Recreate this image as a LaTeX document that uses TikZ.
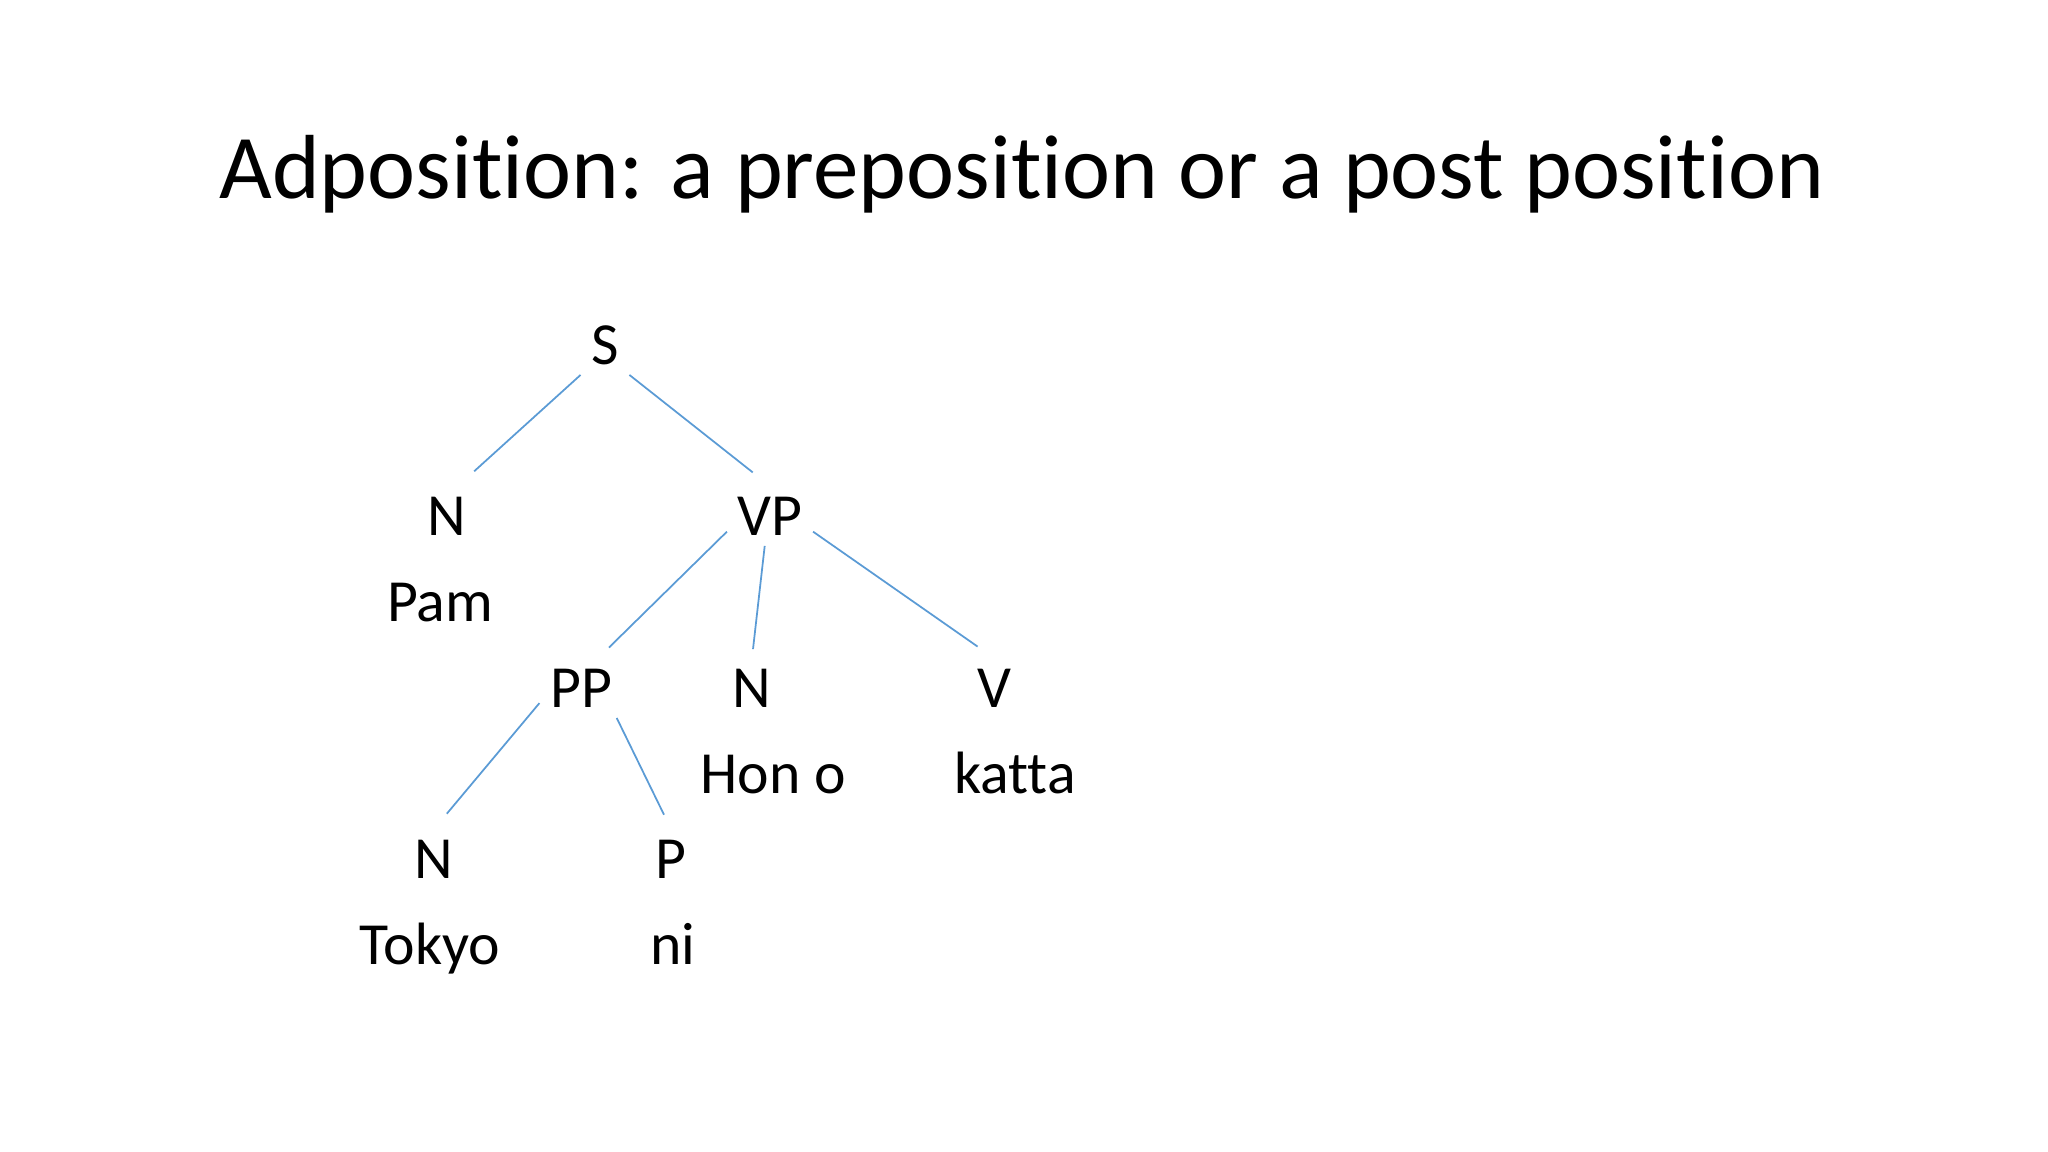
\documentclass[tikz,border=0pt]{standalone}
\usepackage{fontspec}
\setmainfont[Ligatures=NoCommon]{Carlito}
\usepackage{tikz}
\usetikzlibrary{positioning}

\definecolor{linkblue}{RGB}{91,155,213}

\begin{document}
\begin{tikzpicture}[
  tag/.style = {inner sep=0.1cm, text height=0.385cm, text depth=0pt, font=\fontsize{17}{20}\selectfont},
  word/.style = {inner sep=0.1cm, anchor=base, font=\fontsize{17}{20}\selectfont},
  branch/.style = {draw=linkblue, line width=0.5pt, shorten >=0.2cm},
  node distance=0.86cm
]
  \useasboundingbox (0,0) rectangle (20.48,11.52);

  % Title
  \node[anchor=base, font=\fontsize{25.9}{31}\selectfont] (title) at (10.22,9.53)
    {Adposition: a preposition or a post position};

  % Categories
  \node[tag] (s) at (6.05,8.07) {S};
  \node[tag] (n_subj) at (4.47,6.36) {N};
  \node[tag] (vp) at (7.70,6.36) {VP};
  \node[tag] (pp) at (5.81,4.64) {PP};
  \node[tag] (n_obj) at (7.52,4.64) {N};
  \node[tag] (v) at (9.94,4.64) {V};
  \node[tag] (n_place) at (4.34,2.93) {N};
  \node[tag] (p) at (6.71,2.93) {P};

  % Words
  \node[word, below=of n_subj.base, anchor=base, xshift=-0.07cm] (pam_w) {Pam};
  \node[word, below=of n_obj.base, anchor=base, xshift=0.21cm] (hon_w) {Hon o};
  \node[word, below=of v.base, anchor=base, xshift=0.21cm] (katta_w) {katta};
  \node[word, below=of n_place.base, anchor=base, xshift=-0.04cm] (tokyo_w) {Tokyo};
  \node[word, below=of p.base, anchor=base, xshift=0.02cm] (ni_w) {ni};

  % Branches
  \draw[branch, shorten >=0.22cm] (s.south west) -- (n_subj.70);
  \draw[branch, shorten >=0.22cm] (s.south east) -- (vp.north);
  \draw[branch, shorten >=0.15cm] (vp.200) -- (pp.60);
  \draw[branch, shorten >=0.09cm] (vp.260) -- (n_obj.north);
  \draw[branch] (vp.340) -- (v.north);
  \draw[branch] (pp.200) -- (n_place.north);
  \draw[branch, shorten >=0.16cm] (pp.320) -- (p.north);

\end{tikzpicture}
\end{document}
